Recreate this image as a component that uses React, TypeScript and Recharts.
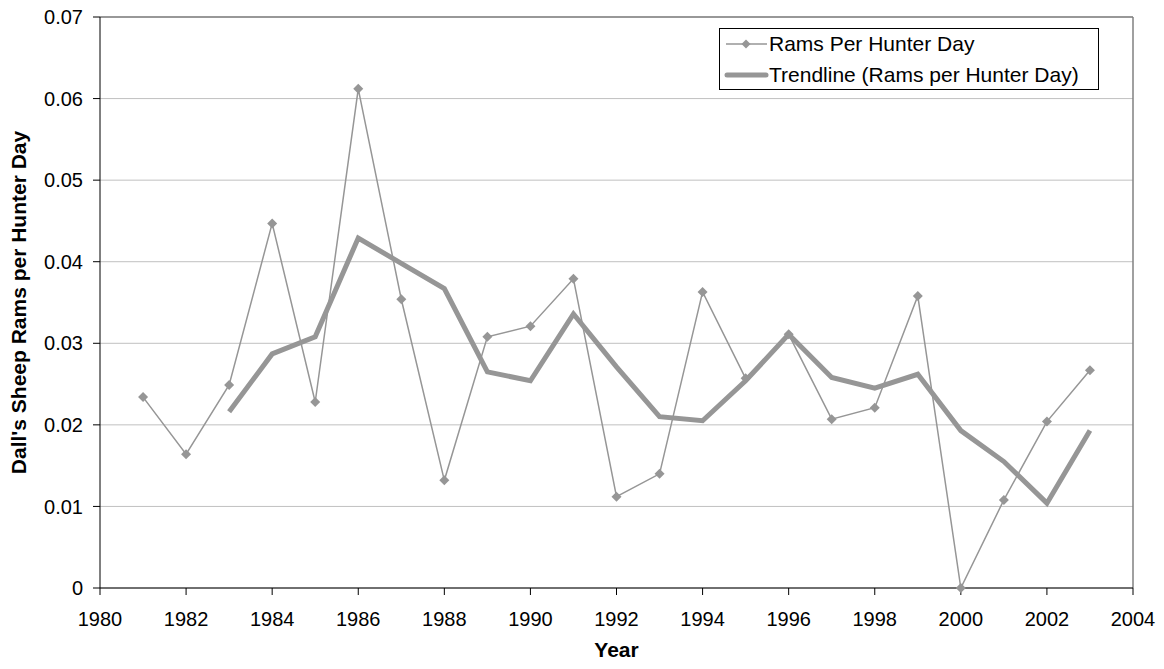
import React from "react";
import { LineChart, Line, XAxis, YAxis, CartesianGrid, Legend, ReferenceLine } from "recharts";

// values
const years = [1981, 1982, 1983, 1984, 1985, 1986, 1987, 1988, 1989, 1990, 1991, 1992, 1993, 1994, 1995, 1996, 1997, 1998, 1999, 2000, 2001, 2002, 2003];
const ramsPerHunterDay = [0.0234, 0.0164, 0.0249, 0.0447, 0.0228, 0.0612, 0.0354, 0.0132, 0.0308, 0.0321, 0.0379, 0.0112, 0.014, 0.0363, 0.0257, 0.0311, 0.0207, 0.0221, 0.0358, 0, 0.0108, 0.0204, 0.0267];
const trendline = [null, null, 0.0216, 0.0287, 0.0308, 0.0429, 0.0398, 0.0367, 0.0265, 0.0254, 0.0336, 0.0271, 0.021, 0.0205, 0.0254, 0.0311, 0.0258, 0.0245, 0.0262, 0.0193, 0.0155, 0.0104, 0.0193];
const xTicks = [1980, 1982, 1984, 1986, 1988, 1990, 1992, 1994, 1996, 1998, 2000, 2002, 2004];
const yTicks = [0, 0.01, 0.02, 0.03, 0.04, 0.05, 0.06, 0.07];

const data = years.map((y, i) => ({ year: y, rams: ramsPerHunterDay[i], trend: trendline[i] }));

const FONT = "'Liberation Sans', Arial, sans-serif";
const GRAY = "#969696";

const Diamond = (props: any) => {
  const { cx, cy } = props;
  if (cx == null || cy == null) return null;
  const r = 5;
  return <polygon points={`${cx},${cy - r} ${cx + r},${cy} ${cx},${cy + r} ${cx - r},${cy}`} fill={GRAY} />;
};

const LegendBox = () => (
  <div style={{ border: "1px solid #000", background: "#fff", width: 380, height: 62, fontFamily: FONT, fontSize: 21, color: "#000", boxSizing: "border-box", whiteSpace: "nowrap" }}>
    <div style={{ display: "flex", alignItems: "center", height: 30 }}>
      <svg width={49} height={12}>
        <line x1={6} y1={6} x2={47} y2={6} stroke={GRAY} strokeWidth={1.5} />
        <polygon points="26,1.5 30.5,6 26,10.5 21.5,6" fill={GRAY} />
      </svg>
      <span>Rams Per Hunter Day</span>
    </div>
    <div style={{ display: "flex", alignItems: "center", height: 31 }}>
      <svg width={49} height={12}>
        <line x1={7} y1={6} x2={46} y2={6} stroke={GRAY} strokeWidth={5} strokeLinecap="round" />
      </svg>
      <span>Trendline (Rams per Hunter Day)</span>
    </div>
  </div>
);

export default function App() {
  return (
    <div style={{ width: 1148, height: 661, marginTop: -8 }}>
      <LineChart width={1148} height={661} data={data} margin={{ top: 17, right: 23, left: 10, bottom: 28 }}>
        <CartesianGrid horizontal vertical={false} stroke="#c0c0c0" />
        <XAxis
          dataKey="year"
          type="number"
          domain={[1980, 2004]}
          ticks={xTicks}
          interval={0}
          height={45}
          stroke="#000"
          tickSize={7}
          tickMargin={17}
          tick={{ fill: "#000", fontSize: 20, fontFamily: FONT }}
          label={{
            content: (p: any) => (
              <text x={p.viewBox.x + p.viewBox.width / 2} y={p.viewBox.y + 69} textAnchor="middle" fontFamily={FONT} fontSize={21} fontWeight="bold" fill="#000">Year</text>
            ),
          }}
        />
        <YAxis
          type="number"
          domain={[0, 0.07]}
          ticks={yTicks}
          interval={0}
          width={82}
          stroke="#000"
          tickSize={7}
          tickMargin={10}
          tickFormatter={(v: number) => (v === 0 ? "0" : v.toFixed(2))}
          tick={{ fill: "#000", fontSize: 20, fontFamily: FONT }}
          label={{
            content: (p: any) => {
              const x = 10;
              const y = p.viewBox.y + p.viewBox.height / 2;
              return (
                <text x={x} y={y} transform={`rotate(-90, ${x}, ${y})`} textAnchor="middle" dominantBaseline="central" fontFamily={FONT} fontSize={21} fontWeight="bold" fill="#000">Dall's Sheep Rams per Hunter Day</text>
              );
            },
          }}
        />
        <ReferenceLine y={0.07} stroke="#808080" strokeWidth={1.5} />
        <ReferenceLine x={2004} stroke="#808080" strokeWidth={1.5} />
        <Legend layout="vertical" align="center" verticalAlign="middle" content={<LegendBox />} wrapperStyle={{ top: 28, left: 711, width: 380 }} />
        <Line dataKey="rams" name="Rams Per Hunter Day" stroke={GRAY} strokeWidth={1.5} dot={<Diamond />} activeDot={false} isAnimationActive={false} />
        <Line dataKey="trend" name="Trendline (Rams per Hunter Day)" stroke={GRAY} strokeWidth={5} dot={false} activeDot={false} connectNulls={false} isAnimationActive={false} />
      </LineChart>
    </div>
  );
}
